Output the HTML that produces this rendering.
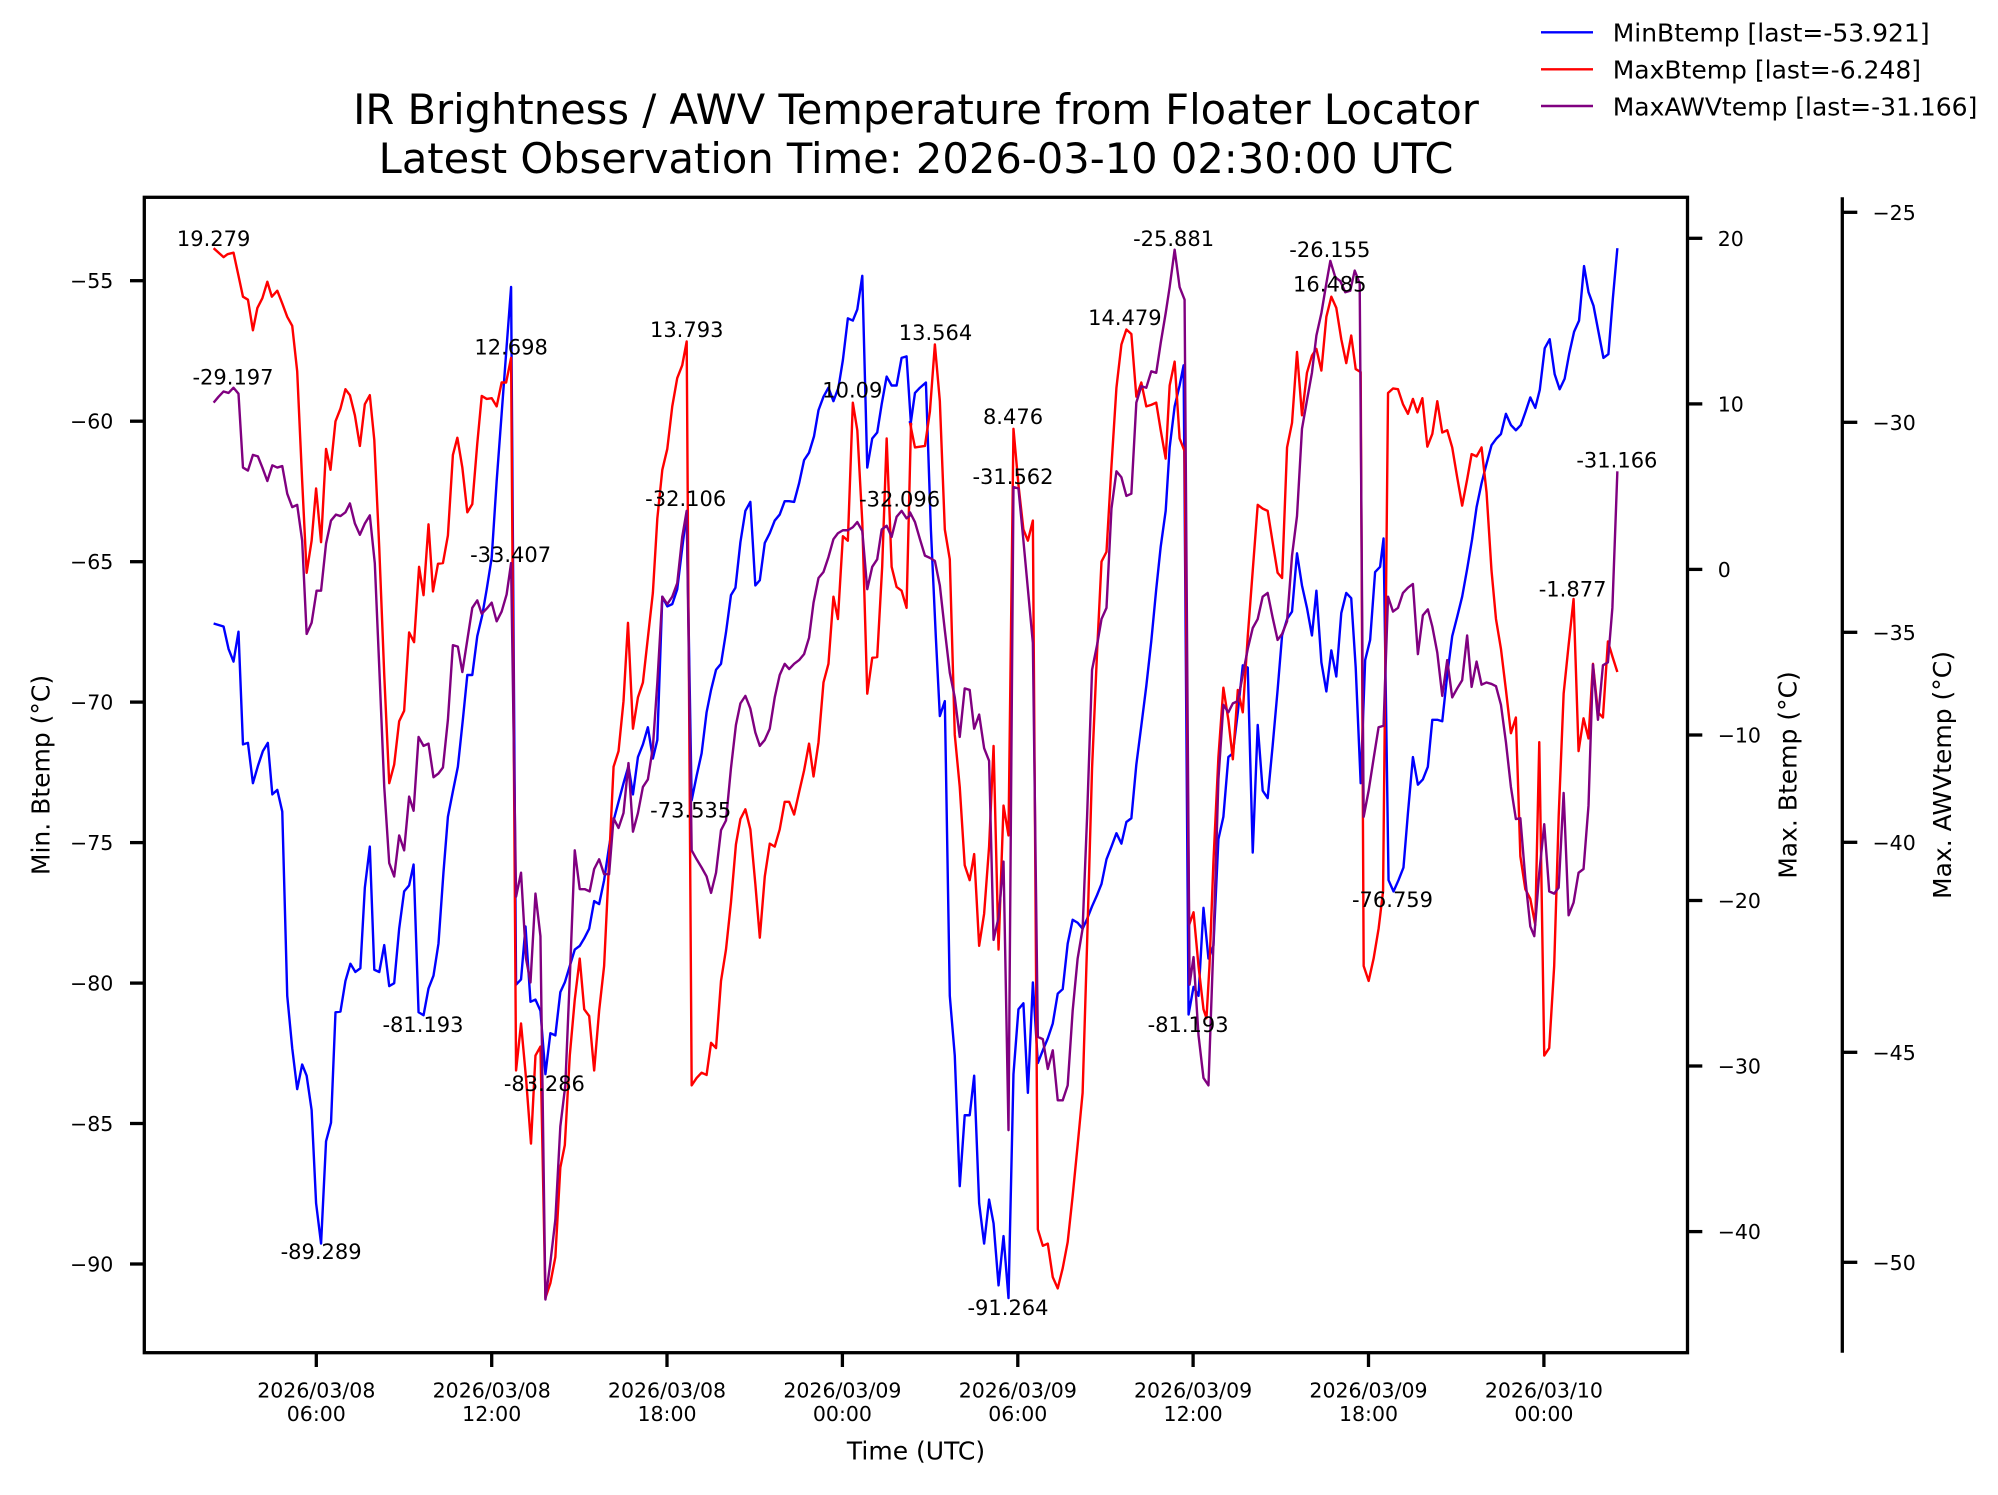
<!DOCTYPE html>
<html><head><meta charset="utf-8"><style>
html,body{margin:0;padding:0;background:#fff;}
svg{display:block;font-family:"DejaVu Sans","Liberation Sans",sans-serif;}
</style></head><body>
<svg width="1998" height="1495" viewBox="0 0 1998 1495" xmlns="http://www.w3.org/2000/svg">
<rect x="0" y="0" width="1998" height="1495" fill="#fff"/>
<!-- title -->
<text x="916" y="124" font-size="41.6" text-anchor="middle">IR Brightness / AWV Temperature from Floater Locator</text>
<text x="916" y="173" font-size="41.6" text-anchor="middle">Latest Observation Time: 2026-03-10 02:30:00 UTC</text>
<!-- legend -->
<g stroke-width="2.4" fill="none">
<line x1="1541" y1="32.3" x2="1593" y2="32.3" stroke="#0000ff"/>
<line x1="1541" y1="69.3" x2="1593" y2="69.3" stroke="#ff0000"/>
<line x1="1541" y1="106" x2="1593" y2="106" stroke="#800080"/>
</g>
<g font-size="25">
<text x="1612.7" y="41.7">MinBtemp [last=-53.921]</text>
<text x="1612.7" y="78.5">MaxBtemp [last=-6.248]</text>
<text x="1612.7" y="115.3">MaxAWVtemp [last=-31.166]</text>
</g>
<!-- data: left half -->
<g transform="translate(140,190) scale(0.49744,0.74616)" fill="none" stroke-width="2.4" stroke-linejoin="round">
<polyline vector-effect="non-scaling-stroke" stroke="#0000ff" points="148,581 168,585 178,615 188,632 198,592 207,743 217,741 227,795 237,772 247,752 257,741 266,810 276,804 286,833 296,1080 306,1150 316,1205 326,1172 335,1187 345,1233 354,1358 364,1412 374,1275 384,1250 393,1102 403,1101 413,1060 423,1037 433,1048 443,1043 452,935 462,880 471,1045 481,1048 491,1012 501,1067 511,1063 521,990 531,940 541,932 550,904 560,1102 570,1106 580,1070 590,1053 600,1010 610,915 619,840 629,806 639,773 649,710 658,650 668,650 678,598 688,570 697,535 707,493 717,390 727,300 737,210 746,130 756,1065 766,1058 775,987 785,1088 795,1085 805,1100 815,1185 825,1130 835,1133 845,1075 854,1062 864,1040 874,1018 884,1013 893,1003 903,990 913,953 923,957 933,925 943,880 952,845 962,820 972,795 982,772 991,810 1001,760 1011,743 1021,720 1031,762 1040,737 1050,545 1060,558 1070,555 1080,535 1090,480 1099,432 1109,818 1119,785 1129,755 1139,700 1148,670 1158,643 1168,635 1178,593 1188,543 1197,533 1207,472 1217,430 1227,418 1237,530 1246,523 1256,473 1266,460 1276,443 1286,435 1296,417 1305,417 1315,418 1325,393 1335,362 1345,352 1355,330 1364,295 1374,277 1384,265 1394,283 1404,265 1413,228 1423,172 1433,175 1442,160 1452,115 1462,372 1472,333 1482,325 1491,287 1501,250 1511,262 1521,262 1531,225 1541,223 1550,315"/>
<polyline vector-effect="non-scaling-stroke" stroke="#ff0000" points="148,78 168,90 176,86 188,84 198,115 207,143 217,147 227,188 236,158 246,145 256,123 265,143 276,135 286,152 296,170 306,182 316,243 326,390 335,513 345,470 354,400 364,472 374,347 383,375 393,310 403,293 413,267 422,275 432,302 442,343 452,287 462,275 471,335 481,480 491,650 501,795 511,770 521,712 531,698 541,593 551,606 561,505 570,543 580,448 589,538 599,501 609,500 619,463 629,355 638,332 648,372 658,432 668,421 678,340 687,276 697,280 707,279 717,290 727,258 736,258 746,225 756,1180 766,1117 776,1190 786,1278 795,1160 805,1148 815,1485 825,1465 835,1430 845,1310 854,1280 864,1160 874,1085 884,1030 893,1098 903,1107 913,1180 923,1100 933,1040 943,900 952,773 962,752 972,685 981,580 991,722 1001,680 1011,660 1021,600 1031,540 1040,440 1050,375 1060,347 1070,290 1080,252 1090,235 1099,203 1109,1200 1119,1190 1129,1183 1139,1186 1148,1143 1158,1150 1168,1060 1178,1018 1188,955 1198,877 1207,843 1217,830 1227,857 1237,930 1246,1002 1256,920 1266,876 1276,880 1286,857 1296,820 1305,820 1315,837 1325,807 1335,778 1345,742 1354,786 1364,740 1374,660 1384,635 1394,545 1403,575 1413,464 1423,470 1433,285 1442,322 1452,445 1462,675 1472,627 1482,626 1492,505 1501,333 1511,505 1521,532 1531,537 1541,560 1550,312"/>
<polyline vector-effect="non-scaling-stroke" stroke="#800080" points="148,285 158,277 168,270 178,272 188,265 198,273 207,372 217,376 227,355 237,357 246,372 256,390 266,369 276,372 286,370 296,407 306,425 316,422 326,470 335,595 345,580 355,537 364,537 374,474 384,443 394,435 403,437 413,432 422,420 432,447 442,462 452,447 462,436 472,500 481,640 491,800 501,902 511,920 521,865 531,885 541,813 550,832 560,733 570,745 580,742 590,787 600,782 609,774 619,710 629,610 639,612 648,646 658,603 668,560 678,550 687,568 697,561 707,553 717,578 727,565 737,542 746,500 756,947 766,915 776,1030 785,1062 795,943 805,1000 815,1487 825,1437 835,1380 845,1255 855,1200 865,1040 874,885 884,937 894,937 904,940 913,910 923,897 933,917 943,917 952,842 962,855 972,835 982,768 991,860 1001,835 1011,800 1021,790 1031,747 1040,660 1050,545 1060,555 1070,545 1080,527 1090,465 1099,430 1109,885 1119,897 1129,908 1139,920 1148,942 1158,915 1168,858 1178,845 1188,775 1198,717 1207,688 1217,678 1227,695 1237,727 1246,745 1256,737 1266,722 1276,680 1286,650 1296,635 1305,642 1315,635 1325,630 1335,622 1345,600 1354,553 1364,520 1374,512 1384,492 1394,468 1403,460 1413,456 1423,456 1433,452 1442,445 1452,457 1462,535 1472,505 1482,495 1491,455 1501,450 1511,465 1521,438 1531,430 1541,440 1550,435"/>
</g>
<!-- data: right half -->
<g transform="translate(910,190) scale(0.49744,0.74616)" fill="none" stroke-width="2.4" stroke-linejoin="round">
<polyline vector-effect="non-scaling-stroke" stroke="#0000ff" points="-2,312 2,310 10,272 20,265 32,258 42,455 52,600 60,705 70,685 80,1080 90,1160 100,1335 110,1240 120,1240 129,1187 139,1358 149,1412 159,1353 168,1385 178,1468 188,1402 198,1485 208,1185 218,1098 228,1090 237,1210 247,1062 257,1170 267,1153 277,1137 287,1117 297,1077 307,1071 317,1010 327,978 337,982 347,990 356,977 366,960 376,945 385,930 395,897 405,880 415,862 425,876 435,847 445,842 455,770 465,718 475,665 485,605 495,535 504,478 514,430 522,345 532,290 542,262 550,235 560,1105 570,1068 580,1080 590,962 600,1030 610,1013 620,870 630,840 640,760 649,755 659,700 669,637 679,640 689,888 699,717 709,805 719,815 729,745 739,670 748,597 758,575 768,565 778,487 788,530 798,560 808,597 817,537 827,633 837,672 847,617 857,652 867,567 877,540 887,547 896,640 906,795 915,630 925,603 935,512 945,505 952,467 962,925 972,940 982,925 992,908 1001,835 1011,760 1021,797 1031,790 1041,773 1050,710 1060,710 1070,712 1080,650 1090,598 1100,572 1110,545 1120,508 1130,468 1139,425 1149,393 1159,367 1169,342 1179,333 1188,327 1198,300 1208,315 1218,322 1228,315 1237,298 1247,278 1257,292 1266,268 1276,212 1286,200 1296,247 1306,267 1316,253 1325,220 1335,190 1345,175 1355,102 1364,137 1374,155 1384,190 1394,225 1404,220 1413,145 1422,78"/>
<polyline vector-effect="non-scaling-stroke" stroke="#ff0000" points="0,312 10,345 20,344 30,343 40,297 50,207 60,283 70,455 80,495 90,730 100,800 110,905 120,925 129,890 139,1013 149,970 159,880 168,745 178,1018 188,825 198,865 208,320 218,395 228,455 237,470 247,443 257,1393 267,1415 277,1412 287,1457 297,1472 307,1445 317,1410 327,1348 337,1280 347,1210 356,1010 366,775 376,620 385,498 395,485 405,370 415,265 425,207 435,187 445,193 455,277 465,258 475,290 485,288 495,285 504,322 514,360 522,262 532,230 542,333 552,350 561,985 570,968 580,1040 590,1098 596,1110 602,1040 610,900 620,760 630,667 640,710 649,763 659,670 669,700 679,598 689,510 699,422 709,427 719,430 729,472 739,513 748,520 758,345 768,312 778,217 788,302 798,245 808,222 817,213 827,242 837,170 847,143 857,158 867,200 877,232 887,195 896,240 906,244 912,1040 922,1060 932,1030 942,990 951,940 961,272 971,266 981,267 991,287 1001,300 1011,280 1020,298 1030,279 1040,344 1050,327 1060,283 1070,325 1080,322 1090,345 1100,385 1110,423 1120,388 1129,354 1139,357 1149,345 1159,405 1169,510 1178,575 1188,615 1198,670 1208,728 1218,707 1227,893 1237,937 1247,950 1257,985 1265,740 1275,1160 1285,1150 1295,1040 1304,840 1314,675 1324,610 1334,548 1344,752 1354,708 1364,735 1373,635 1383,700 1393,707 1403,605 1412,625 1422,646"/>
<polyline vector-effect="non-scaling-stroke" stroke="#800080" points="-2,435 0,432 10,445 20,468 30,490 40,493 50,497 60,530 70,590 80,647 90,680 100,733 110,668 120,670 129,722 139,703 149,748 159,765 168,1005 178,975 188,900 198,1260 208,398 218,400 228,470 237,535 247,607 257,1135 267,1138 277,1178 287,1153 297,1220 307,1220 317,1200 327,1100 337,1030 347,990 356,840 366,643 376,610 385,575 395,560 405,427 415,377 425,385 435,410 445,407 455,285 465,263 475,265 485,243 495,245 504,205 514,165 522,130 532,80 542,130 552,147 562,1065 570,1028 580,1133 590,1190 600,1200 610,1010 620,790 630,690 640,700 649,688 659,685 669,650 679,615 689,587 699,575 709,545 719,540 729,573 739,603 748,595 758,578 768,490 778,437 788,320 798,282 808,245 817,195 827,165 837,125 845,95 855,117 865,122 875,137 885,135 894,108 904,125 912,840 922,805 932,762 942,720 952,718 961,545 971,565 981,560 991,540 1001,533 1011,528 1021,622 1031,570 1041,562 1050,585 1060,620 1070,678 1080,630 1090,680 1100,668 1110,657 1120,597 1129,666 1139,632 1149,663 1159,660 1169,662 1178,665 1188,690 1198,740 1208,800 1218,843 1227,842 1237,923 1247,987 1255,1000 1265,915 1275,850 1285,940 1295,943 1304,935 1314,808 1324,972 1334,955 1344,915 1354,910 1364,825 1373,636 1383,710 1393,637 1403,633 1412,560 1422,377"/>
</g>
<!-- annotations -->
<g font-size="21" text-anchor="middle">
<text x="213.6" y="245.8">19.279</text>
<text x="233" y="384.6">-29.197</text>
<text x="511.1" y="354.7">12.698</text>
<text x="510.6" y="562.2">-33.407</text>
<text x="686.7" y="336.8">13.793</text>
<text x="685.7" y="506.2">-32.106</text>
<text x="690.7" y="817.4">-73.535</text>
<text x="852.3" y="397.3">10.09</text>
<text x="423" y="1032.2">-81.193</text>
<text x="544.4" y="1091.2">-83.286</text>
<text x="321.1" y="1259.1">-89.289</text>
<text x="899.6" y="506.3">-32.096</text>
<text x="935.5" y="339.8">13.564</text>
<text x="1013" y="424.1">8.476</text>
<text x="1013" y="483.8">-31.562</text>
<text x="1124.9" y="324.9">14.479</text>
<text x="1173.6" y="245.8">-25.881</text>
<text x="1329.8" y="257">-26.155</text>
<text x="1329.8" y="291.3">16.485</text>
<text x="1188.1" y="1032.2">-81.193</text>
<text x="1008" y="1315.1">-91.264</text>
<text x="1392.5" y="906.9">-76.759</text>
<text x="1572.6" y="596.5">-1.877</text>
<text x="1616.9" y="467.4">-31.166</text>
</g>
<!-- axes frame -->
<rect x="144.3" y="197.3" width="1543.2" height="1155.4" fill="none" stroke="#000" stroke-width="3.3"/>
<line x1="1842.3" y1="197.3" x2="1842.3" y2="1352.7" stroke="#000" stroke-width="3.3"/>
<!-- ticks -->
<g stroke="#000" stroke-width="3.3">
<line x1="130" y1="280.7" x2="144.3" y2="280.7"/>
<line x1="130" y1="421.2" x2="144.3" y2="421.2"/>
<line x1="130" y1="561.7" x2="144.3" y2="561.7"/>
<line x1="130" y1="702.1" x2="144.3" y2="702.1"/>
<line x1="130" y1="842.6" x2="144.3" y2="842.6"/>
<line x1="130" y1="983.1" x2="144.3" y2="983.1"/>
<line x1="130" y1="1123.5" x2="144.3" y2="1123.5"/>
<line x1="130" y1="1264" x2="144.3" y2="1264"/>
<line x1="1687.5" y1="238.3" x2="1702.3" y2="238.3"/>
<line x1="1687.5" y1="403.9" x2="1702.3" y2="403.9"/>
<line x1="1687.5" y1="569.4" x2="1702.3" y2="569.4"/>
<line x1="1687.5" y1="735" x2="1702.3" y2="735"/>
<line x1="1687.5" y1="900.5" x2="1702.3" y2="900.5"/>
<line x1="1687.5" y1="1066" x2="1702.3" y2="1066"/>
<line x1="1687.5" y1="1231.6" x2="1702.3" y2="1231.6"/>
<line x1="1842.3" y1="212.3" x2="1857.3" y2="212.3"/>
<line x1="1842.3" y1="422.3" x2="1857.3" y2="422.3"/>
<line x1="1842.3" y1="632.3" x2="1857.3" y2="632.3"/>
<line x1="1842.3" y1="842.3" x2="1857.3" y2="842.3"/>
<line x1="1842.3" y1="1052.3" x2="1857.3" y2="1052.3"/>
<line x1="1842.3" y1="1262.3" x2="1857.3" y2="1262.3"/>
<line x1="316.3" y1="1352.7" x2="316.3" y2="1367"/>
<line x1="491.7" y1="1352.7" x2="491.7" y2="1367"/>
<line x1="667" y1="1352.7" x2="667" y2="1367"/>
<line x1="842.4" y1="1352.7" x2="842.4" y2="1367"/>
<line x1="1017.8" y1="1352.7" x2="1017.8" y2="1367"/>
<line x1="1193.1" y1="1352.7" x2="1193.1" y2="1367"/>
<line x1="1368.5" y1="1352.7" x2="1368.5" y2="1367"/>
<line x1="1543.9" y1="1352.7" x2="1543.9" y2="1367"/>
</g>
<!-- tick labels -->
<g font-size="20.5" text-anchor="end">
<text x="113.3" y="288.2">−55</text>
<text x="113.3" y="428.7">−60</text>
<text x="113.3" y="569.2">−65</text>
<text x="113.3" y="709.6">−70</text>
<text x="113.3" y="850.1">−75</text>
<text x="113.3" y="990.6">−80</text>
<text x="113.3" y="1131">−85</text>
<text x="113.3" y="1271.5">−90</text>
</g>
<g font-size="20.5">
<text x="1717.7" y="245.8">20</text>
<text x="1717.7" y="411.4">10</text>
<text x="1717.7" y="576.9">0</text>
<text x="1717.7" y="742.5">−10</text>
<text x="1717.7" y="908">−20</text>
<text x="1717.7" y="1073.5">−30</text>
<text x="1717.7" y="1239.1">−40</text>
<text x="1872.5" y="219.8">−25</text>
<text x="1872.5" y="429.8">−30</text>
<text x="1872.5" y="639.8">−35</text>
<text x="1872.5" y="849.8">−40</text>
<text x="1872.5" y="1059.8">−45</text>
<text x="1872.5" y="1269.8">−50</text>
</g>
<g font-size="20.5" text-anchor="middle">
<text x="316.3" y="1397.5">2026/03/08</text><text x="316.3" y="1421">06:00</text>
<text x="491.7" y="1397.5">2026/03/08</text><text x="491.7" y="1421">12:00</text>
<text x="667" y="1397.5">2026/03/08</text><text x="667" y="1421">18:00</text>
<text x="842.4" y="1397.5">2026/03/09</text><text x="842.4" y="1421">00:00</text>
<text x="1017.8" y="1397.5">2026/03/09</text><text x="1017.8" y="1421">06:00</text>
<text x="1193.1" y="1397.5">2026/03/09</text><text x="1193.1" y="1421">12:00</text>
<text x="1368.5" y="1397.5">2026/03/09</text><text x="1368.5" y="1421">18:00</text>
<text x="1543.9" y="1397.5">2026/03/10</text><text x="1543.9" y="1421">00:00</text>
</g>
<!-- axis labels -->
<g font-size="25" text-anchor="middle">
<text x="916" y="1459.5">Time (UTC)</text>
<text transform="translate(49.5,775) rotate(-90)">Min. Btemp (°C)</text>
<text transform="translate(1796.5,775) rotate(-90)">Max. Btemp (°C)</text>
<text transform="translate(1951,775) rotate(-90)">Max. AWVtemp (°C)</text>
</g>
</svg>
</body></html>
